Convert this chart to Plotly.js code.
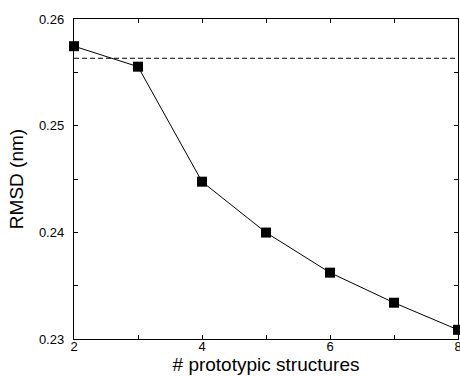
<!DOCTYPE html>
<html>
<head>
<meta charset="utf-8">
<script src="https://cdn.plot.ly/plotly-3.0.1.min.js"></script>
<style>html,body{margin:0;padding:0;background:#fff;}#chart{width:460px;height:376px;}</style>
</head>
<body>
<div id="chart"></div>
<script>
var structures = [2, 3, 4, 5, 6, 7, 8];
var rmsd = [0.25745, 0.25553, 0.24475, 0.23998, 0.23622, 0.2334, 0.23086];
var referenceRmsd = 0.25632;
var referenceX = [2, 8];
var xTickVals = [2, 3, 4, 5, 6, 7, 8];
var xTickText = ['2', '', '4', '', '6', '', '8'];
var yTickVals = [0.23, 0.235, 0.24, 0.245, 0.25, 0.255, 0.26];
var yTickText = ['0.23', '', '0.24', '', '0.25', '', '0.26'];

var traces = [
  {
    x: referenceX,
    y: referenceX.map(function(){ return referenceRmsd; }),
    mode: 'lines',
    line: {color: '#000', width: 1, dash: '5px,3px'},
    hoverinfo: 'skip'
  },
  {
    x: structures,
    y: rmsd,
    mode: 'lines+markers',
    line: {color: '#000', width: 1},
    marker: {symbol: 'square', size: 10, color: '#000', line: {width: 0}},
    cliponaxis: false
  }
];

var fontFamily = 'Liberation Sans, Arial, Helvetica, sans-serif';
var layout = {
  width: 460,
  height: 376,
  margin: {l: 74, r: 2, t: 19, b: 37},
  showlegend: false,
  paper_bgcolor: '#fff',
  plot_bgcolor: '#fff',
  font: {family: fontFamily, color: '#000', size: 13},
  xaxis: {
    range: [2, 8],
    tickmode: 'array',
    tickvals: xTickVals,
    ticktext: xTickText,
    ticks: 'inside',
    ticklen: 4,
    tickwidth: 1,
    tickcolor: '#000',
    showline: true,
    linecolor: '#000',
    linewidth: 1.2,
    mirror: 'ticks',
    showgrid: false,
    zeroline: false,
    tickfont: {size: 13},
    ticklabelstandoff: -5,
    ticklabeloverflow: 'allow',
    title: {text: '# prototypic structures', font: {size: 19}, standoff: 0},
    automargin: false
  },
  yaxis: {
    range: [0.23, 0.26],
    tickmode: 'array',
    tickvals: yTickVals,
    ticktext: yTickText,
    ticks: 'inside',
    ticklen: 4,
    tickwidth: 1,
    tickcolor: '#000',
    showline: true,
    linecolor: '#000',
    linewidth: 1.2,
    mirror: 'ticks',
    showgrid: false,
    zeroline: false,
    tickfont: {size: 13},
    ticklabelstandoff: 6,
    title: {text: 'RMSD (nm)', font: {size: 19}, standoff: 10},
    automargin: false
  }
};

Plotly.newPlot('chart', traces, layout, {displayModeBar: false, staticPlot: true});
</script>
</body>
</html>
